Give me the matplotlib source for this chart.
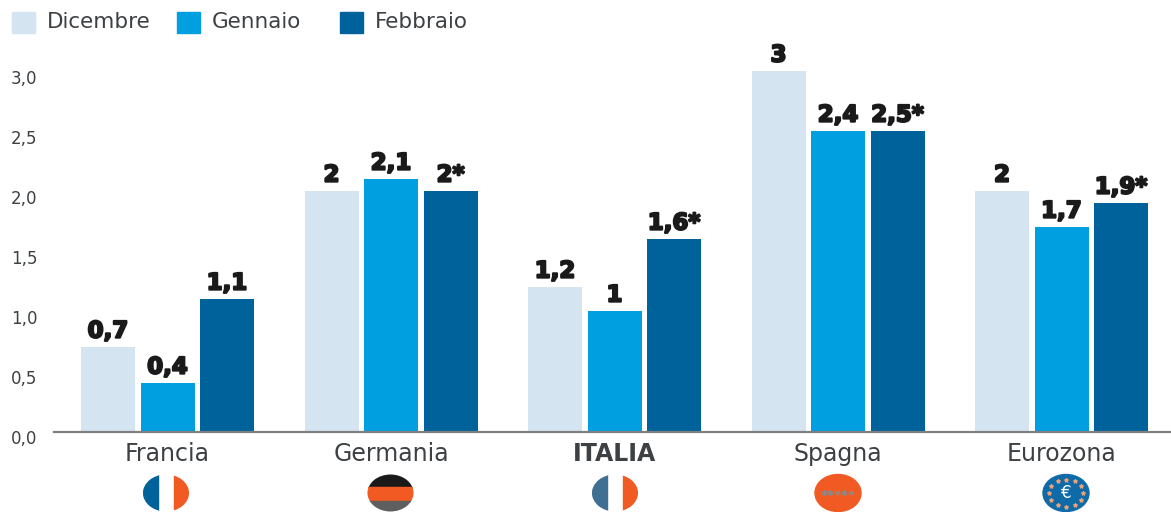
import numpy as np
import matplotlib
matplotlib.use("Agg")
from matplotlib import pyplot as plt
from matplotlib import patheffects as pe
from matplotlib.patches import Ellipse, Rectangle
from matplotlib.transforms import ScaledTranslation

paesi = ["Francia", "Germania", "ITALIA", "Spagna", "Eurozona"]
dicembre = [0.71, 2.01, 1.21, 3.01, 2.01]
gennaio = [0.41, 2.11, 1.01, 2.51, 1.71]
febbraio = [1.11, 2.01, 1.61, 2.51, 1.91]
etichette_dic = ["0,7", "2", "1,2", "3", "2"]
etichette_gen = ["0,4", "2,1", "1", "2,4", "1,7"]
etichette_feb = ["1,1", "2*", "1,6*", "2,5*", "1,9*"]
mesi = ["Dicembre", "Gennaio", "Febbraio"]
y_ticks = [0, 0.5, 1, 1.5, 2, 2.5, 3]
y_labels = ["0,0", "0,5", "1,0", "1,5", "2,0", "2,5", "3,0"]

W, H = 1171, 512
FONT = "DejaVu Sans"
TESTO = "#3d4144"
BLU_CHIARO = "#d4e5f1"
AZZURRO = "#009fdf"
BLU = "#00629b"
ARANCIO = "#f15a22"
colori = [BLU_CHIARO, AZZURRO, BLU]

fig = plt.figure(figsize=(W / 100, H / 100), dpi=100)
ax = fig.add_axes([54 / W, (H - 432) / H, (W - 54) / W, 432 / H])

# un gruppo ogni 223.5 px, primo gruppo centrato a x=167.5
ax.set_xlim((54 - 167.5) / 223.5, (W - 167.5) / 223.5)
ax.set_ylim(0, 3.6)
x = np.arange(len(paesi))
larghezza = 54 / 223.5
passo = 59.5 / 223.5

serie = [dicembre, gennaio, febbraio]
etichette = [etichette_dic, etichette_gen, etichette_feb]
for i in range(3):
    pos = x + (i - 1) * passo
    ax.bar(pos, serie[i], larghezza, color=colori[i], zorder=2)
    for px, val, lab in zip(pos, serie[i], etichette[i]):
        ax.annotate(lab, (px, val), xytext=(0, 3), textcoords="offset points",
                    ha="center", va="bottom", fontsize=16.5, fontweight="bold",
                    family="DejaVu Sans", color="#1a1a1a",
                    path_effects=[pe.withStroke(linewidth=1.5, foreground="#1a1a1a")])

for s in ["top", "right", "left"]:
    ax.spines[s].set_visible(False)
ax.spines["bottom"].set_color("#808080")
ax.spines["bottom"].set_linewidth(1.6)

ax.set_yticks(y_ticks)
ax.set_yticklabels(y_labels, fontsize=12, family=FONT, color=TESTO)
ax.tick_params(axis="y", length=0, pad=12)
sposta = ScaledTranslation(0, -3.6 / 72, fig.dpi_scale_trans)
for lab in ax.get_yticklabels():
    lab.set_transform(lab.get_transform() + sposta)

ax.set_xticks(x)
ax.set_xticklabels(paesi, fontsize=17, family=FONT, color=TESTO)
ax.tick_params(axis="x", length=0, pad=7)
ax.get_xticklabels()[2].set_fontweight("bold")

# sopra: legenda e bandiere in coordinate pixel
over = fig.add_axes([0, 0, 1, 1])
over.set_xlim(0, W)
over.set_ylim(H, 0)
over.axis("off")

for cx, col, nome in zip([12, 177, 340], colori, mesi):
    over.add_patch(Rectangle((cx, 12), 23, 21, color=col))
    over.text(cx + 35, 22, nome, va="center", ha="left", fontsize=15.5, family=FONT, color=TESTO)


def bandiera(cx, strisce, verticale=True, fondo="white"):
    clip = Ellipse((cx, 493), 46, 37, color=fondo, zorder=3)
    over.add_patch(clip)
    for a, b, col in strisce:
        if verticale:
            r = Rectangle((cx + a, 470), b - a, 46, color=col, zorder=4)
        else:
            r = Rectangle((cx - 25, a), 50, b - a, color=col, zorder=4)
        over.add_patch(r)
        r.set_clip_path(clip)


bandiera(166, [(-23, -8, BLU), (8, 23, ARANCIO)])
bandiera(390.5, [(470, 487, "#1a1a1a"), (487, 501, ARANCIO), (501, 516, "#5f5f5f")], verticale=False)
bandiera(615, [(-23, -8, "#3f6f93"), (8, 23, ARANCIO)])

# Spagna
over.add_patch(Ellipse((838, 493), 46, 37, color=ARANCIO, zorder=3))
over.text(838, 493, "✱✱✱✱✱", ha="center", va="center", fontsize=6, color="#8a8a8a",
          family="DejaVu Sans", zorder=4)

# Eurozona
over.add_patch(Ellipse((1066, 493), 46, 37, color="#0f6aa8", zorder=3))
ang = np.linspace(0, 2 * np.pi, 12, endpoint=False)
over.scatter(1066 + 17 * np.cos(ang), 493 + 13.5 * np.sin(ang), s=7, marker="*", color="#e9a27a", zorder=4)
over.text(1066, 493, "€", ha="center", va="center", fontsize=12, color="white",
          family="DejaVu Sans", zorder=4)

fig.savefig("out.png", dpi=100)
